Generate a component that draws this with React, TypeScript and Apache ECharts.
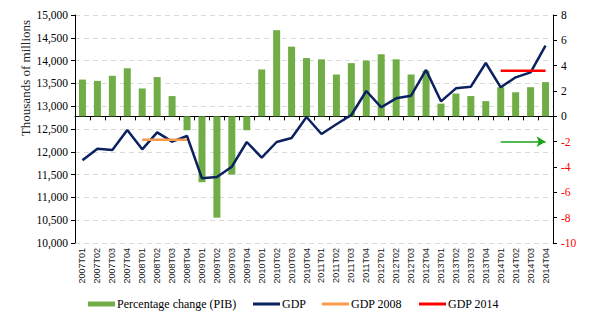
import React, { useEffect, useRef } from "react";
import * as echarts from "echarts";

const categories = [
  "2007T01","2007T02","2007T03","2007T04",
  "2008T01","2008T02","2008T03","2008T04",
  "2009T01","2009T02","2009T03","2009T04",
  "2010T01","2010T02","2010T03","2010T04",
  "2011T01","2011T02","2011T03","2011T04",
  "2012T01","2012T02","2012T03","2012T04",
  "2013T01","2013T02","2013T03","2013T04",
  "2014T01","2014T02","2014T03","2014T04",
];

const pctChange = [
  2.9, 2.8, 3.2, 3.8,
  2.2, 3.1, 1.6, -1.1,
  -5.2, -8.0, -4.6, -1.1,
  3.7, 6.8, 5.5, 4.6,
  4.5, 3.3, 4.2, 4.4,
  4.9, 4.5, 3.3, 3.6,
  1.0, 1.8, 1.6, 1.2,
  2.3, 1.9, 2.3, 2.7,
];

const gdp = [
  11813, 12068, 12040, 12478,
  12054, 12427, 12222, 12346,
  11418, 11447, 11673, 12215,
  11871, 12215, 12303, 12763,
  12390, 12603, 12807, 13333,
  12976, 13173, 13231, 13794,
  13107, 13392, 13428, 13947,
  13414, 13633, 13743, 14327,
];

const gdp2008Value = 12262;
const gdp2014Value = 13780;
const gdp2008Range = [4, 7];
const gdp2014Range = [28, 31];
const arrowRange = [28, 31];
const arrowLevel = -2;

const leftTicks = { min: 10000, max: 15000, interval: 500 };
const rightTicks = { min: -10, max: 8, interval: 2 };

const legendNames = ["Percentage change (PIB)", "GDP", "GDP 2008", "GDP 2014"];
const colors = { bar: "#70ad47", gdp: "#0b2160", g2008: "#f79a4c", g2014: "#ff0000", arrow: "#1aa31a" };

function rangeSeries(value: number, range: number[]) {
  return categories.map((_, i) => (i >= range[0] && i <= range[1] ? value : null));
}

export default function App() {
  const ref = useRef<HTMLDivElement>(null);
  useEffect(() => {
    if (!ref.current) return;
    const chart = echarts.init(ref.current, null, { renderer: "svg" });
    const serif = "Liberation Serif";
    const legendY = 304;
    const legendItems = [
      { x: 88, kind: "rect", color: colors.bar },
      { x: 253, kind: "line", color: colors.gdp },
      { x: 322, kind: "line", color: colors.g2008 },
      { x: 419, kind: "line", color: colors.g2014 },
    ];
    const legendGraphics: any[] = [];
    legendItems.forEach((it, i) => {
      if (it.kind === "rect") {
        legendGraphics.push({
          type: "rect",
          shape: { x: it.x, y: legendY - 2.5, width: 27, height: 5 },
          style: { fill: it.color },
        });
      } else {
        legendGraphics.push({
          type: "line",
          shape: { x1: it.x, y1: legendY, x2: it.x + 27, y2: legendY },
          style: { stroke: it.color, lineWidth: 3 },
        });
      }
      legendGraphics.push({
        type: "text",
        x: it.x + 29,
        y: legendY,
        style: {
          text: legendNames[i],
          fontFamily: serif,
          fontSize: 12,
          fill: "#000",
          verticalAlign: "middle",
          align: "left",
        },
      });
    });
    chart.setOption({
      animation: false,
      backgroundColor: "#ffffff",
      grid: { left: 75, right: 36, top: 15, bottom: 79 },
      graphic: [
        {
          type: "text",
          x: 25,
          y: 78,
          rotation: Math.PI / 2,
          style: {
            text: "Thousands of millions",
            fontFamily: serif,
            fontSize: 13,
            fill: "#222",
            align: "center",
            verticalAlign: "middle",
          },
        },
        ...legendGraphics,
      ],
      xAxis: {
        type: "category",
        data: categories,
        boundaryGap: true,
        axisLine: { lineStyle: { color: "#000", width: 1 } },
        axisTick: { show: true, alignWithLabel: false, length: 4, lineStyle: { color: "#000" } },
        axisLabel: {
          interval: 0,
          rotate: 90,
          fontFamily: "Liberation Sans",
          fontSize: 9,
          color: "#222",
          margin: 5,
        },
        splitLine: { show: false },
      },
      yAxis: [
        {
          type: "value",
          min: leftTicks.min,
          max: leftTicks.max,
          interval: leftTicks.interval,
          position: "left",
          axisLine: { show: true, lineStyle: { color: "#000", width: 1 } },
          axisTick: { show: true, length: 4, lineStyle: { color: "#000" } },
          axisLabel: {
            fontFamily: serif,
            fontSize: 11.5,
            color: "#000",
            margin: 7,
            formatter: (v: number) => v.toLocaleString("en-US"),
          },
          splitLine: { show: true, lineStyle: { color: "#d9d9d9", type: [5, 4], width: 1 } },
        },
        {
          type: "value",
          min: rightTicks.min,
          max: rightTicks.max,
          interval: rightTicks.interval,
          position: "right",
          axisLine: { show: true, lineStyle: { color: "#000", width: 1 } },
          axisTick: { show: true, length: 4, lineStyle: { color: "#000" } },
          axisLabel: {
            fontFamily: serif,
            fontSize: 11.5,
            margin: 8,
            formatter: (v: number) => (v < 0 ? `{r|${v}}` : `{b|${v}}`),
            rich: {
              r: { color: "#ff0000", fontFamily: serif, fontSize: 11.5 },
              b: { color: "#000", fontFamily: serif, fontSize: 11.5 },
            },
          },
          splitLine: { show: false },
        },
      ],
      series: [
        {
          name: legendNames[0],
          type: "bar",
          yAxisIndex: 1,
          data: pctChange,
          barWidth: 7,
          itemStyle: { color: colors.bar },
          markLine: {
            silent: true,
            symbol: ["none", "arrow"],
            symbolSize: [8, 9],
            label: { show: false },
            lineStyle: { color: colors.arrow, width: 1.5, type: "solid" },
            data: [[{ coord: [arrowRange[0], arrowLevel] }, { coord: [arrowRange[1], arrowLevel] }]],
          },
        },
        {
          name: legendNames[1],
          type: "line",
          yAxisIndex: 0,
          data: gdp,
          symbol: "none",
          lineStyle: { color: colors.gdp, width: 2.5 },
          itemStyle: { color: colors.gdp },
        },
        {
          name: legendNames[2],
          type: "line",
          yAxisIndex: 0,
          data: rangeSeries(gdp2008Value, gdp2008Range),
          symbol: "none",
          lineStyle: { color: colors.g2008, width: 2.5 },
          itemStyle: { color: colors.g2008 },
        },
        {
          name: legendNames[3],
          type: "line",
          yAxisIndex: 0,
          data: rangeSeries(gdp2014Value, gdp2014Range),
          symbol: "none",
          lineStyle: { color: colors.g2014, width: 2.5 },
          itemStyle: { color: colors.g2014 },
        },
      ],
    });
    return () => chart.dispose();
  }, []);
  return (
    <div
      ref={ref}
      style={{ width: 589, height: 322, position: "fixed", left: 0, top: 0, background: "#fff" }}
    />
  );
}
